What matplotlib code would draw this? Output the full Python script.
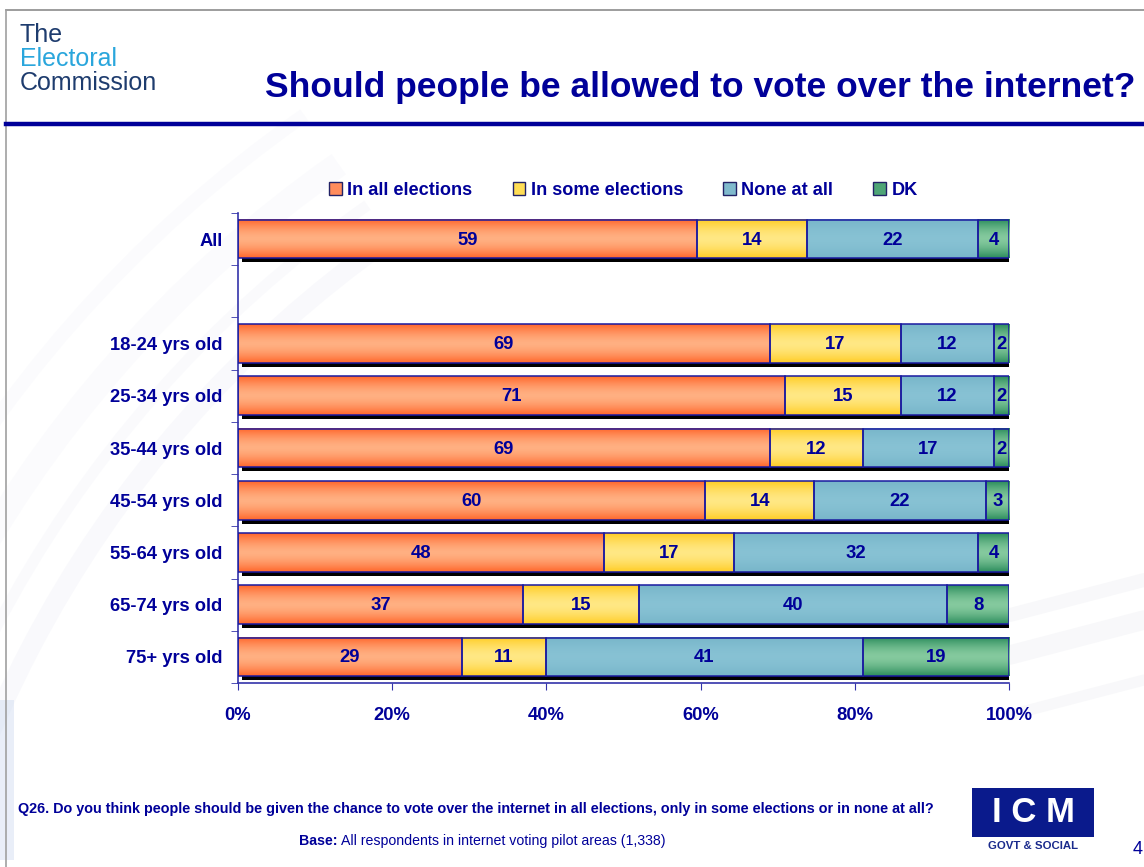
import numpy as np
import matplotlib.pyplot as plt
from matplotlib.patches import Patch, Rectangle, Arc
from matplotlib.transforms import ScaledTranslation

plt.rcParams['font.family'] = ['Liberation Sans', 'DejaVu Sans']

# Survey results (% of respondents) per age group
groups = ["All", "18-24 yrs old", "25-34 yrs old", "35-44 yrs old", "45-54 yrs old",
          "55-64 yrs old", "65-74 yrs old", "75+ yrs old"]
answers = ["In all elections", "In some elections", "None at all", "DK"]
in_all = [59, 69, 71, 69, 60, 48, 37, 29]
in_some = [14, 17, 15, 12, 14, 17, 15, 11]
none_at_all = [22, 12, 12, 17, 22, 32, 40, 41]
dont_know = [4, 2, 2, 2, 3, 4, 8, 19]

NAVY = '#000099'
# (edge colour, centre colour) for the vertical bar gradients
shades = [((1.00, 0.40, 0.17), (1.00, 0.69, 0.51)),
          ((1.00, 0.80, 0.14), (1.00, 0.91, 0.52)),
          ((0.47, 0.71, 0.79), (0.53, 0.76, 0.83)),
          ((0.17, 0.55, 0.36), (0.52, 0.79, 0.62))]
legend_cols = ['#FF8C5C', '#FFDD55', '#80BACD', '#4EA576']

fig = plt.figure(figsize=(11.44, 8.67), dpi=100)

# --- slide background: faint swooshes, frame lines, header ---
bg = fig.add_axes([0, 0, 1, 1], zorder=-5)
bg.set_xlim(0, 1144)
bg.set_ylim(867, 0)
bg.axis('off')
for r, lw, a in [(1150, 14, 0.12), (1190, 8, 0.10), (1240, 18, 0.08), (1300, 10, 0.08)]:
    bg.add_patch(Arc((1050, 1180), 2 * r, 2 * r, theta1=180, theta2=235,
                     color='#D0D3EA', lw=lw, alpha=a))
for y0, lw in [(600, 10), (640, 14), (700, 8)]:
    bg.plot([1010, 1144], [y0 + 15, y0 - 20], color='#E8E9EF', lw=lw, alpha=0.3,
            solid_capstyle='round')
bg.add_patch(Rectangle((0, 700), 14, 160, color='#C9D6EE', alpha=0.4, lw=0))
bg.plot([6, 1144], [10, 10], color='#8C8C8C', lw=1.2)
bg.plot([6, 6], [10, 867], color='#A0A0A0', lw=1.2)
bg.plot([6, 1144], [124, 124], color=NAVY, lw=3.2)

for txt, y, col in [("The", 35, '#1E3C6E'), ("Electoral", 59, '#2AA6DC'),
                    ("Commission", 83, '#1E3C6E')]:
    fig.text(20 / 1144, 1 - y / 867, txt, color=col, fontsize=18, va='center')
fig.text(1135 / 1144, 1 - 87 / 867, "Should people be allowed to vote over the internet?",
         color=NAVY, fontsize=25.5, fontweight='bold', ha='right', va='center')

# --- stacked bar chart ---
ax = fig.add_axes([238 / 1144, 1 - 683 / 867, 771 / 1144, 470 / 867])
ax.patch.set_alpha(0)

table = np.array([in_all, in_some, none_at_all, dont_know], dtype=float)
totals = table.sum(axis=0)
shares = table / totals * 100
ypos = np.r_[0, np.arange(2, len(groups) + 1)]
h = 0.74

shadow = ax.transData + ScaledTranslation(4 / 100, -4 / 100, fig.dpi_scale_trans)
ax.barh(ypos, 100, height=h, color='black', transform=shadow, zorder=1)

s = np.linspace(-1, 1, 64)
prof = 1 - np.abs(s) ** 1.6
left = np.zeros(len(groups))
for k, (edge, mid) in enumerate(shades):
    edge, mid = np.array(edge), np.array(mid)
    grad = edge[None, :] + (mid - edge)[None, :] * prof[:, None]
    grad = grad[:, None, :]
    for i, y in enumerate(ypos):
        x0, w = left[i], shares[k, i]
        ax.imshow(grad, extent=[x0, x0 + w, y + h / 2, y - h / 2], aspect='auto',
                  interpolation='bilinear', zorder=2)
        ax.text(x0 + w / 2, y + 0.02, f"{table[k, i]:.0f}", ha='center', va='center',
                color=NAVY, fontsize=13.3, fontweight='bold', zorder=4)
    ax.barh(ypos, shares[k], left=left, height=h, fill=False,
            edgecolor='#1A1AA0', lw=1.1, zorder=3)
    left += shares[k]

ax.set_xlim(0, 100)
ax.set_ylim(8.5, -0.5)
ax.set_xticks(np.arange(0, 101, 20))
ax.set_xticklabels([f"{v}%" for v in range(0, 101, 20)])
ax.set_yticks(ypos)
ax.set_yticklabels(groups)
ax.set_yticks(np.arange(-0.5, 9, 1), minor=True)
ax.tick_params(axis='y', which='major', length=0, pad=11)
ax.tick_params(axis='y', which='minor', length=5, color='#3333AA', direction='out')
ax.tick_params(axis='x', length=5, color='#3333AA', direction='out', pad=12)
for lab in ax.get_xticklabels() + ax.get_yticklabels():
    lab.set_fontweight('bold')
    lab.set_color(NAVY)
    lab.set_fontsize(13.2)
for side in ['top', 'right']:
    ax.spines[side].set_visible(False)
for side in ['left', 'bottom']:
    ax.spines[side].set_color('#3333AA')
    ax.spines[side].set_linewidth(1.2)

handles = [Patch(facecolor=c, edgecolor='#222266', lw=1) for c in legend_cols]
leg = ax.legend(handles, answers, loc='lower center', bbox_to_anchor=(0.5, 0.995),
                ncol=4, frameon=False, handlelength=0.7, handleheight=0.7,
                handletextpad=0.3, columnspacing=2.2,
                prop={'weight': 'bold', 'size': 13.1})
for t in leg.get_texts():
    t.set_color(NAVY)

# --- footer ---
fig.text(18 / 1144, 1 - 809 / 867,
         "Q26. Do you think people should be given the chance to vote over the internet "
         "in all elections, only in some elections or in none at all?",
         color=NAVY, fontsize=10.4, fontweight='bold', va='center')
base = fig.text(299 / 1144, 1 - 841 / 867, "Base:", color=NAVY, fontsize=10.2,
                fontweight='bold', va='center')
fig.canvas.draw()
bb = base.get_window_extent()
fig.text(bb.x1 / 1144 + 4 / 1144, 1 - 841 / 867,
         "All respondents in internet voting pilot areas (1,338)",
         color=NAVY, fontsize=10.2, va='center')

bg.add_patch(Rectangle((972, 788), 122, 49, color='#0A1A8C', lw=0))
bg.text(1033, 813, "I C M", color='white', fontsize=25, fontweight='bold',
        ha='center', va='center')
bg.text(1033, 846, "GOVT & SOCIAL", color='#1A2A8C', fontsize=8.2, fontweight='bold',
        ha='center', va='center')
bg.text(1138, 850, "4", color=NAVY, fontsize=13, ha='center', va='center')

fig.savefig('out.png', dpi=100)
